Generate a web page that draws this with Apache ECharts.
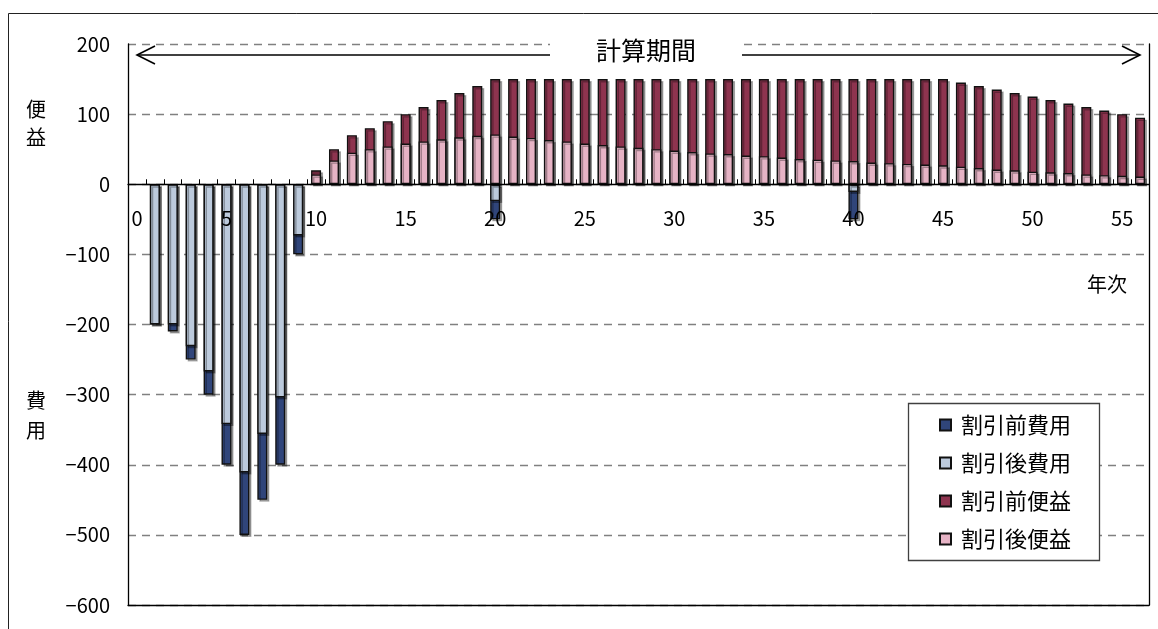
<!DOCTYPE html>
<html>
<head>
<meta charset="utf-8">
<script src="https://cdn.jsdelivr.net/npm/echarts@6/dist/echarts.min.js"></script>
<style>
  html, body { margin: 0; padding: 0; background: #fff; }
  #main { width: 1158px; height: 629px; }
</style>
</head>
<body>
<div id="main"></div>
<script>
// 年次（0〜56）
var years = ['0','1','2','3','4','5','6','7','8','9','10','11','12','13','14','15','16','17','18','19',
  '20','21','22','23','24','25','26','27','28','29','30','31','32','33','34','35','36','37','38','39',
  '40','41','42','43','44','45','46','47','48','49','50','51','52','53','54','55','56'];

// 費用（発生する年次とその値）
var costYears  = [1, 2, 3, 4, 5, 6, 7, 8, 9, 20, 40];
var costBefore = [-200, -210, -250, -300, -400, -500, -450, -400, -100, -50, -50];
var costAfter  = [-200, -200, -231, -267, -342, -411, -356, -304, -73, -24, -11];

// 便益（10年次〜56年次）
var benefitStart = 10;
var benefitBefore = [20, 50, 70, 80, 90, 100, 110, 120, 130, 140,
  150, 150, 150, 150, 150, 150, 150, 150, 150, 150,
  150, 150, 150, 150, 150, 150, 150, 150, 150, 150,
  150, 150, 150, 150, 150, 150,
  145, 140, 135, 130, 125, 120, 115, 110, 105, 100, 95];
var benefitAfter = [14, 34, 45, 50, 54, 58, 61, 64, 67, 69,
  71, 68, 66, 63, 61, 58, 56, 54, 52, 50,
  48, 46, 44, 43, 41, 40, 38, 36, 35, 34,
  33, 31, 30, 29, 28, 27, 25, 23, 21, 20,
  18, 17, 16, 14, 13, 12, 11];

var yTicks = { min: -600, max: 200, interval: 100 };

var FONT = '"Noto Sans CJK JP", "Liberation Sans", sans-serif';

var W = 1158, H = 629;
var grid = { left: 128, right: 9, top: 44, bottom: 24 };
// 0 の位置まで横軸を持ち上げる量
var zeroOffset = -(H - grid.top - grid.bottom) * (0 - yTicks.min) / (yTicks.max - yTicks.min);

function pairs(xs, vs) {
  return vs.map(function (v, i) { return [xs[i], v]; });
}
function fromStart(start, vs) {
  return vs.map(function (v, i) { return [start + i, v]; });
}

var barStyle = function (color) {
  return {
    color: color,
    borderColor: '#111',
    borderWidth: 1.4,
    shadowColor: 'rgba(0,0,0,0.3)',
    shadowOffsetX: 2,
    shadowOffsetY: 2,
    shadowBlur: 0
  };
};

var myChart = echarts.init(document.getElementById('main'));

var option = {
  animation: false,
  backgroundColor: '#fff',
  textStyle: { fontFamily: FONT, color: '#000' },
  grid: { left: grid.left, right: grid.right, top: grid.top, bottom: grid.bottom, outerBoundsMode: 'none' },
  legend: {
    orient: 'vertical',
    left: 939,
    top: 414,
    z: 60,
    padding: 0,
    itemWidth: 11,
    itemHeight: 11,
    itemGap: 16,
    icon: 'rect',
    textStyle: { fontSize: 22, color: '#000', fontFamily: FONT, padding: [0, 0, 0, 5] },
    data: ['割引前費用', '割引後費用', '割引前便益', '割引後便益']
  },
  xAxis: [{
    // 0 の位置の横軸（目盛ラベル付き）
    type: 'category',
    data: years,
    position: 'bottom',
    offset: zeroOffset,
    z: 10,
    axisLine: { onZero: false, lineStyle: { color: '#000', width: 1.3 } },
    axisTick: { show: true, inside: true, length: 5, interval: 0, lineStyle: { color: '#000' } },
    axisLabel: { interval: 4, fontSize: 20, color: '#000', margin: 24, fontFamily: FONT },
    splitLine: { show: false }
  }, {
    // 下側の枠線
    type: 'category',
    data: years,
    position: 'bottom',
    axisLine: { onZero: false, lineStyle: { color: '#000', width: 1.3 } },
    axisTick: { show: false },
    axisLabel: { show: false }
  }],
  yAxis: [{
    type: 'value',
    min: yTicks.min,
    max: yTicks.max,
    interval: yTicks.interval,
    axisLine: { show: true, onZero: false, lineStyle: { color: '#000', width: 1.3 } },
    axisTick: { show: false },
    axisLabel: {
      fontSize: 20, color: '#000', margin: 18, fontFamily: FONT,
      formatter: function (v) { return String(v).replace('-', '−'); }
    },
    splitLine: { lineStyle: { color: '#808080', type: [8, 6], width: 1.3 } }
  }, {
    // 右側の枠線
    type: 'value',
    position: 'right',
    min: yTicks.min,
    max: yTicks.max,
    interval: yTicks.interval,
    axisLine: { show: true, onZero: false, lineStyle: { color: '#000', width: 1.3 } },
    axisTick: { show: false },
    axisLabel: { show: false },
    splitLine: { show: false }
  }],
  series: [
    {
      name: '割引前費用', type: 'bar', barWidth: 10, barGap: '-100%',
      itemStyle: barStyle('#30457a'),
      data: pairs(costYears, costBefore)
    },
    {
      name: '割引後費用', type: 'bar', barWidth: 10, barGap: '-100%',
      itemStyle: barStyle('#bccadc'),
      data: pairs(costYears, costAfter)
    },
    {
      name: '割引前便益', type: 'bar', barWidth: 10, barGap: '-100%',
      itemStyle: barStyle('#8e344f'),
      data: fromStart(benefitStart, benefitBefore)
    },
    {
      name: '割引後便益', type: 'bar', barWidth: 10, barGap: '-100%',
      itemStyle: barStyle('#e6b3c5'),
      data: fromStart(benefitStart, benefitAfter)
    }
  ],
  graphic: [
    // 外枠
    { type: 'rect', z: 1, shape: { x: 8.5, y: 13.5, width: 1300, height: 800 },
      style: { fill: null, stroke: '#222', lineWidth: 1 } },
    // 凡例の枠
    { type: 'rect', z: 50, shape: { x: 908.5, y: 403.5, width: 191, height: 157 },
      style: { fill: '#fff', stroke: '#404040', lineWidth: 1.3 } },
    // 計算期間の矢印
    { type: 'line', z: 100, shape: { x1: 137, y1: 55, x2: 1140, y2: 55 },
      style: { stroke: '#000', lineWidth: 1.6 } },
    { type: 'polyline', z: 100, shape: { points: [[155, 46], [137, 55], [155, 64]] },
      style: { stroke: '#000', lineWidth: 1.6, fill: null } },
    { type: 'polyline', z: 100, shape: { points: [[1122, 46], [1140, 55], [1122, 64]] },
      style: { stroke: '#000', lineWidth: 1.6, fill: null } },
    { type: 'text', z: 110, x: 646, y: 50,
      style: { text: '計算期間', font: '25px ' + FONT, fill: '#000', align: 'center', verticalAlign: 'middle',
        backgroundColor: '#fff', padding: [4, 46] } },
    // 軸の説明
    { type: 'text', z: 100, x: 36, y: 123,
      style: { text: '便\n益', font: '20px ' + FONT, lineHeight: 28, fill: '#000', align: 'center', verticalAlign: 'middle' } },
    { type: 'text', z: 100, x: 36, y: 415,
      style: { text: '費\n用', font: '20px ' + FONT, lineHeight: 30, fill: '#000', align: 'center', verticalAlign: 'middle' } },
    { type: 'text', z: 100, x: 1107, y: 284,
      style: { text: '年次', font: '20px ' + FONT, fill: '#000', align: 'center', verticalAlign: 'middle' } }
  ]
};

myChart.setOption(option);
</script>
</body>
</html>
